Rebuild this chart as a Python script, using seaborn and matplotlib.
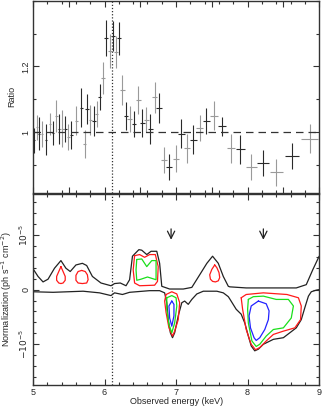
"""
Line ratio residuals (top) and normalization contour scan (bottom)
"""
import numpy as np
import pandas as pd
import seaborn as sns
import matplotlib.pyplot as plt
from matplotlib.ticker import MultipleLocator

sns.set_theme(style='ticks')
plt.rcParams['font.family'] = ['Liberation Sans', 'DejaVu Sans']
plt.rcParams['mathtext.fontset'] = 'dejavusans'

###############################################################################
# data: ratio panel
###############################################################################
energy = [5.014, 5.056, 5.084, 5.126, 5.186, 5.233, 5.28, 5.326, 5.364, 5.41,
          5.452, 5.49, 5.536, 5.606, 5.676, 5.72, 5.755, 5.80, 5.85, 5.89,
          5.93, 5.98, 6.02, 6.07, 6.12, 6.156, 6.20, 6.25, 6.296, 6.352,
          6.41, 6.47, 6.53, 6.585, 6.64, 6.70, 6.76, 6.83, 6.90, 6.995,
          7.075, 7.154, 7.24, 7.33, 7.424, 7.53, 7.64, 7.765, 7.90, 8.05,
          8.217, 8.40, 8.62, 8.87]
ratio = [0.975, 1.015, 0.995, 0.993, 0.977, 1.025, 0.997, 1.05, 1.01, 1.01,
         1.01, 0.985, 0.99, 1.035, 1.074, 0.963, 1.07, 1.037, 1.033, 1.056,
         1.106, 1.165, 1.286, 1.247, 1.293, 1.244, 1.286, 1.128, 1.05, 1.04,
         1.025, 1.098, 1.027, 1.037, 1.01, 1.106, 1.074, 0.914, 0.894, 0.919,
         0.995, 0.95, 0.977, 1.013, 1.033, 1.05, 1.017, 0.95, 0.947, 0.894,
         0.906, 0.877, 0.926, 0.98]
ratio_err = [0.038, 0.038, 0.05, 0.04, 0.048, 0.033, 0.038, 0.049, 0.045, 0.056,
             0.04, 0.04, 0.043, 0.043, 0.06, 0.043, 0.045, 0.045, 0.045, 0.04,
             0.04, 0.05, 0.055, 0.053, 0.045, 0.05, 0.05, 0.045, 0.043, 0.04,
             0.04, 0.043, 0.043, 0.038, 0.045, 0.048, 0.045, 0.04, 0.04, 0.04,
             0.045, 0.045, 0.043, 0.04, 0.04, 0.045, 0.03, 0.045, 0.043, 0.04,
             0.04, 0.04, 0.04, 0.045]
energy_err = [0.014, 0.014, 0.014, 0.015, 0.016, 0.016, 0.017, 0.018, 0.018, 0.019,
              0.019, 0.02, 0.02, 0.022, 0.022, 0.023, 0.023, 0.024, 0.025, 0.025,
              0.026, 0.027, 0.027, 0.028, 0.028, 0.029, 0.03, 0.03, 0.031, 0.032,
              0.032, 0.033, 0.034, 0.035, 0.036, 0.037, 0.037, 0.038, 0.04, 0.042,
              0.044, 0.045, 0.047, 0.048, 0.05, 0.052, 0.055, 0.06, 0.065, 0.075,
              0.08, 0.09, 0.1, 0.12]

###############################################################################
# data: normalization panel (norm in units of 1e-5)
###############################################################################
upper_e = [5.0, 5.07, 5.14, 5.21, 5.30, 5.39, 5.46, 5.52, 5.60, 5.69, 5.75,
           5.83, 5.95, 6.09, 6.14, 6.22, 6.30, 6.35, 6.39, 6.48, 6.52, 6.59,
           6.65, 6.73, 6.77, 6.80, 6.91, 7.10, 7.22, 7.33, 7.43, 7.51, 7.59,
           7.66, 7.73, 7.75, 7.98, 8.68, 8.82, 8.87, 8.91, 9.0]
upper_n = [0.38, 0.24, 0.14, 0.19, 0.39, 0.53, 0.39, 0.33, 0.45, 0.48, 0.44,
           0.24, 0.12, 0.07, 0.11, 0.12, 0.07, 0.18, 0.61, 0.73, 0.72, 0.64,
           0.70, 0.70, 0.48, 0.06, 0.01, 0.01, 0.04, 0.27, 0.48, 0.61, 0.48,
           0.24, 0.06, 0.05, 0.03, 0.03, 0.09, 0.24, 0.36, 0.61]
lower_e = [5.0, 5.28, 5.70, 5.93, 6.09, 6.14, 6.25, 6.35, 6.63, 6.77, 6.84,
           6.87, 6.89, 6.92, 6.95, 6.98, 7.03, 7.08, 7.12, 7.17, 7.22, 7.29,
           7.38, 7.57, 7.66, 7.73, 7.75, 7.84, 7.91, 7.96, 8.01, 8.05, 8.10,
           8.15, 8.22, 8.36, 8.50, 8.59, 8.68, 8.75, 8.80, 8.85, 8.89, 8.96, 9.0]
lower_n = [-0.04, -0.05, -0.03, -0.06, -0.11, -0.06, -0.09, -0.05, -0.02, -0.02,
           -0.06, -0.24, -0.55, -0.79, -0.88, -0.79, -0.48, -0.24, -0.21, -0.27,
           -0.18, -0.08, -0.03, -0.03, -0.06, -0.13, -0.17, -0.36, -0.45, -0.61,
           -0.85, -1.03, -1.12, -1.09, -1.0, -0.91, -0.88, -0.79, -0.70, -0.55,
           -0.33, -0.12, -0.04, -0.01, 0.0]

# closed confidence contours: (energy, norm, level colour)
contours = [
    ([5.39, 5.36, 5.33, 5.33, 5.36, 5.39, 5.42, 5.45, 5.45, 5.42],
     [0.42, 0.33, 0.24, 0.17, 0.12, 0.11, 0.12, 0.17, 0.24, 0.33], 'red'),
    ([5.68, 5.63, 5.60, 5.60, 5.63, 5.69, 5.75, 5.77, 5.76, 5.73],
     [0.35, 0.33, 0.26, 0.17, 0.12, 0.11, 0.12, 0.18, 0.27, 0.33], 'red'),
    ([6.42, 6.49, 6.56, 6.63, 6.71, 6.75, 6.74, 6.70, 6.49, 6.42, 6.40],
     [0.62, 0.64, 0.59, 0.64, 0.64, 0.42, 0.15, 0.08, 0.07, 0.12, 0.36], 'red'),
    ([6.45, 6.52, 6.59, 6.66, 6.72, 6.72, 6.60, 6.51, 6.45, 6.44],
     [0.55, 0.56, 0.42, 0.53, 0.53, 0.18, 0.23, 0.19, 0.17, 0.36], 'green'),
    ([7.54, 7.50, 7.47, 7.48, 7.51, 7.55, 7.59, 7.61, 7.60, 7.57],
     [0.45, 0.37, 0.27, 0.19, 0.15, 0.14, 0.16, 0.22, 0.31, 0.40], 'red'),
    ([6.86, 6.94, 7.01, 7.05, 7.03, 6.98, 6.95, 6.90, 6.86, 6.84],
     [-0.09, -0.04, -0.08, -0.24, -0.55, -0.76, -0.85, -0.70, -0.42, -0.21], 'red'),
    ([6.87, 6.94, 7.0, 7.01, 6.98, 6.94, 6.90, 6.87],
     [-0.15, -0.11, -0.15, -0.30, -0.61, -0.79, -0.64, -0.36], 'green'),
    ([6.94, 6.97, 6.97, 6.94, 6.91, 6.90],
     [-0.21, -0.27, -0.48, -0.67, -0.52, -0.30], 'blue'),
    ([7.91, 7.98, 8.22, 8.55, 8.71, 8.75, 8.74, 8.66, 8.50, 8.36, 8.26, 8.17,
      8.11, 8.05, 7.98, 7.93],
     [-0.15, -0.09, -0.06, -0.09, -0.15, -0.30, -0.55, -0.70, -0.76, -0.82,
      -0.94, -1.06, -1.10, -1.0, -0.73, -0.36], 'red'),
    ([8.01, 8.08, 8.22, 8.40, 8.57, 8.64, 8.61, 8.50, 8.36, 8.26, 8.17, 8.12,
      8.06, 8.01, 8.0],
     [-0.18, -0.13, -0.12, -0.18, -0.18, -0.30, -0.52, -0.70, -0.73, -0.85,
      -1.0, -1.04, -0.94, -0.61, -0.36], 'green'),
    ([8.15, 8.05, 8.02, 8.04, 8.09, 8.12, 8.17, 8.24, 8.29, 8.30, 8.26],
     [-0.21, -0.30, -0.48, -0.70, -0.88, -0.93, -0.88, -0.73, -0.55, -0.39,
      -0.26], 'blue'),
]
level_colors = {'red': '#ff1a1a', 'green': '#1adf1a', 'blue': '#2222ff'}

line_energy = 6.1
arrow_energies = [6.93, 8.22]

###############################################################################
# figure
###############################################################################
fig = plt.figure(figsize=(3.27, 4.09), dpi=100)
ax1 = fig.add_axes([0.101, 0.528, 0.875, 0.470])
ax2 = fig.add_axes([0.101, 0.058, 0.875, 0.468])

# top: ratio
df = pd.DataFrame({'energy': energy, 'ratio': ratio,
                   'yerr': ratio_err, 'xerr': energy_err})
df['shade'] = np.where(np.arange(len(df)) % 2 == 0, '#2a2a2a', '#9a9a9a')
for shade, grp in df.groupby('shade'):
    ax1.errorbar(grp['energy'], grp['ratio'], xerr=grp['xerr'], yerr=grp['yerr'],
                 fmt='none', ecolor=shade, elinewidth=0.8, capsize=0)
ax1.axhline(1.0, color='#333333', lw=0.9, ls=(0, (6, 4)))
ax1.axvline(line_energy, color='#333333', lw=0.9, ls=(0, (1, 1.5)))
ax1.set_xlim(5, 9)
ax1.set_ylim(0.814, 1.4)
ax1.set_yticks([1.0, 1.2])
ax1.set_yticklabels(['1', '1.2'], rotation=90, va='center')
ax1.yaxis.set_minor_locator(MultipleLocator(0.1))
ax1.set_ylabel('Ratio', fontsize=6.5)
ax1.yaxis.set_label_coords(-0.058, 0.5)
ax1.tick_params(labelbottom=False)

# bottom: normalization scan
sns.lineplot(x=upper_e, y=upper_n, sort=False, estimator=None,
             color='#222222', lw=0.9, ax=ax2)
sns.lineplot(x=lower_e, y=lower_n, sort=False, estimator=None,
             color='#222222', lw=0.9, ax=ax2)
for ce, cn, lvl in contours:
    cdf = pd.DataFrame({'e': ce + ce[:1], 'n': cn + cn[:1]})
    sns.lineplot(data=cdf, x='e', y='n', sort=False, estimator=None,
                 color=level_colors[lvl], lw=0.9, ax=ax2)
ax2.axvline(line_energy, color='#333333', lw=0.9, ls=(0, (1, 1.5)))
for ae in arrow_energies:
    ax2.annotate('', xy=(ae, 0.86), xytext=(ae, 1.16),
                 arrowprops=dict(arrowstyle='->', color='#222222', lw=0.9,
                                 mutation_scale=13))
ax2.set_xlim(5, 9)
ax2.set_ylim(-1.75, 1.75)
ax2.set_yticks([-1, 0, 1])
ax2.set_yticklabels([r'$-10^{-5}$', '0', r'$10^{-5}$'], rotation=90, va='center')
ax2.yaxis.set_minor_locator(MultipleLocator(0.2))
ax2.set_xticks([5, 6, 7, 8, 9])
ax2.set_xlabel('Observed energy (keV)', fontsize=6.5, labelpad=0)
ax2.set_ylabel(r'Normalization (ph s$^{-1}$ cm$^{-2}$)', fontsize=6.5)
ax2.yaxis.set_label_coords(-0.068, 0.5)

for ax in (ax1, ax2):
    ax.xaxis.set_minor_locator(MultipleLocator(0.2))
    ax.tick_params(which='both', direction='in', top=True, right=True,
                   labelsize=6.5, width=0.8, color='#333333', pad=2)
    ax.tick_params(which='major', length=4)
    ax.tick_params(which='minor', length=2)
    for s in ax.spines.values():
        s.set_linewidth(1.0)
        s.set_color('#333333')

fig.savefig('out.png', dpi=100)
